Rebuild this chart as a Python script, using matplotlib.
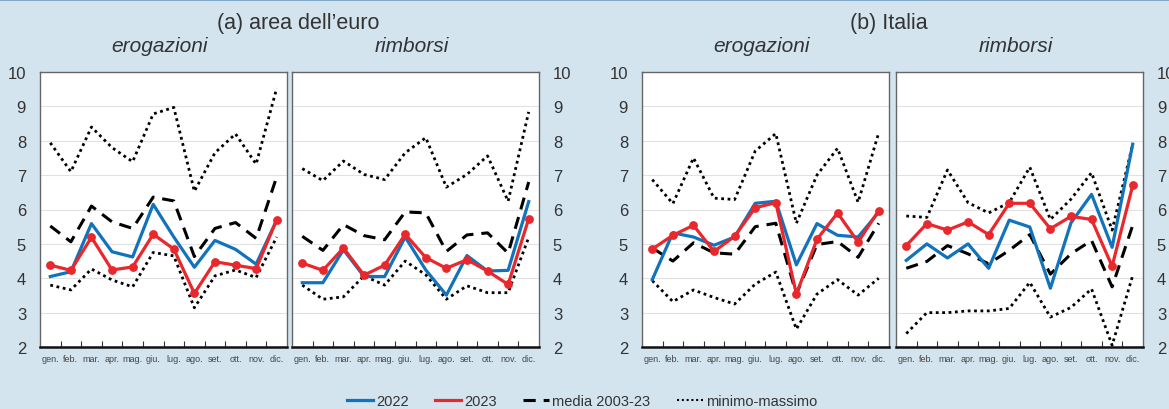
import matplotlib
matplotlib.use("Agg")
import matplotlib.pyplot as plt
from matplotlib.lines import Line2D

plt.rcParams["font.family"] = ["Liberation Sans", "DejaVu Sans"]

months = ["gen.", "feb.", "mar.", "apr.", "mag.", "giu.", "lug.", "ago.", "set.", "ott.", "nov.", "dic."]

# (a) area dell'euro - erogazioni
ea_erog_2022 = [4.05, 4.19, 5.59, 4.77, 4.62, 6.15, 5.2, 4.32, 5.1, 4.84, 4.41, 5.69]
ea_erog_2023 = [4.38, 4.23, 5.19, 4.24, 4.33, 5.28, 4.85, 3.56, 4.48, 4.38, 4.28, 5.7]
ea_erog_media = [5.52, 5.06, 6.1, 5.64, 5.45, 6.36, 6.25, 4.63, 5.45, 5.62, 5.16, 6.95]
ea_erog_max = [7.94, 7.1, 8.4, 7.8, 7.39, 8.78, 8.97, 6.53, 7.65, 8.2, 7.32, 9.53]
ea_erog_min = [3.8, 3.66, 4.27, 3.95, 3.75, 4.75, 4.65, 3.14, 4.07, 4.24, 4.02, 5.2]

# (a) area dell'euro - rimborsi
ea_rimb_2022 = [3.87, 3.87, 4.83, 4.05, 4.05, 5.2, 4.24, 3.51, 4.66, 4.21, 4.23, 6.23]
ea_rimb_2023 = [4.44, 4.23, 4.88, 4.09, 4.38, 5.28, 4.6, 4.29, 4.54, 4.21, 3.82, 5.73]
ea_rimb_media = [5.22, 4.81, 5.56, 5.24, 5.12, 5.93, 5.9, 4.78, 5.26, 5.32, 4.73, 6.8]
ea_rimb_max = [7.19, 6.84, 7.41, 7.02, 6.87, 7.65, 8.09, 6.65, 7.02, 7.56, 6.24, 8.84]
ea_rimb_min = [3.8, 3.39, 3.46, 4.07, 3.8, 4.5, 4.1, 3.39, 3.78, 3.58, 3.58, 5.19]

# (b) Italia - erogazioni
it_erog_2022 = [3.96, 5.32, 5.2, 4.96, 5.2, 6.18, 6.24, 4.39, 5.59, 5.25, 5.2, 5.92]
it_erog_2023 = [4.85, 5.25, 5.54, 4.78, 5.22, 6.05, 6.2, 3.54, 5.13, 5.9, 5.05, 5.97]
it_erog_media = [4.88, 4.5, 5.03, 4.74, 4.7, 5.5, 5.6, 3.54, 4.98, 5.07, 4.61, 5.6]
it_erog_max = [6.87, 6.17, 7.5, 6.33, 6.29, 7.7, 8.21, 5.6, 7.0, 7.78, 6.21, 8.23]
it_erog_min = [3.93, 3.32, 3.66, 3.44, 3.25, 3.83, 4.18, 2.52, 3.54, 3.96, 3.51, 4.0]

# (b) Italia - rimborsi
it_rimb_2022 = [4.52, 5.0, 4.59, 5.0, 4.29, 5.69, 5.49, 3.71, 5.61, 6.44, 4.9, 7.9]
it_rimb_2023 = [4.95, 5.59, 5.4, 5.64, 5.27, 6.18, 6.18, 5.44, 5.8, 5.71, 4.35, 6.7]
it_rimb_media = [4.29, 4.49, 4.95, 4.71, 4.42, 4.81, 5.27, 4.12, 4.71, 5.1, 3.75, 5.54]
it_rimb_max = [5.81, 5.77, 7.15, 6.2, 5.9, 6.2, 7.23, 5.71, 6.3, 7.07, 5.4, 7.9]
it_rimb_min = [2.39, 3.0, 3.0, 3.05, 3.05, 3.12, 3.88, 2.87, 3.15, 3.69, 2.05, 4.08]

panels = [
    ("erogazioni", "left", ea_erog_2022, ea_erog_2023, ea_erog_media, ea_erog_max, ea_erog_min, 40),
    ("rimborsi", "right", ea_rimb_2022, ea_rimb_2023, ea_rimb_media, ea_rimb_max, ea_rimb_min, 292),
    ("erogazioni", "left", it_erog_2022, it_erog_2023, it_erog_media, it_erog_max, it_erog_min, 642),
    ("rimborsi", "right", it_rimb_2022, it_rimb_2023, it_rimb_media, it_rimb_max, it_rimb_min, 896),
]

BG = "#d3e4ef"
BLUE = "#1173bb"
RED = "#e8282c"
W, H = 1169, 410
fig = plt.figure(figsize=(W / 100, H / 100), dpi=100, facecolor=BG)
fig.add_artist(Line2D([0, 1], [1 - 1 / H, 1 - 1 / H], color="#7fa9c6", lw=1.5))

x = list(range(12))
for title, side, s22, s23, med, mx, mn, left in panels:
    ax = fig.add_axes([left / W, (H - 348) / H, 247 / W, 275 / H])
    ax.set_facecolor("white")
    ax.plot(x, mx, color="black", lw=2.0, dashes=(1, 1.3))
    ax.plot(x, mn, color="black", lw=2.0, dashes=(1, 1.3))
    ax.plot(x, med, color="black", lw=2.2, dashes=(4, 2.6))
    ax.plot(x, s22, color=BLUE, lw=2.3)
    ax.plot(x, s23, color=RED, lw=2.3, marker="o", ms=5.3)
    ax.set_xlim(-0.5, 11.5)
    ax.set_ylim(2, 10)
    ax.set_yticks(range(2, 11))
    ax.grid(axis="y", color="#e2e2e2", lw=0.8)
    ax.set_axisbelow(True)
    ax.set_xticks([i + 0.5 for i in range(11)])
    ax.set_xticklabels([])
    ax.set_xticks(x, minor=True)
    ax.set_xticklabels(months, minor=True, fontsize=6.5, color="#444444")
    ax.tick_params(axis="x", which="major", direction="in", length=4, color="#333333")
    ax.tick_params(axis="x", which="minor", length=0, pad=5)
    ax.tick_params(axis="y", length=0, labelsize=12, colors="#333333", pad=10)
    if side == "right":
        ax.yaxis.tick_right()
    for sp in ("top", "left", "right"):
        ax.spines[sp].set_color("#666666")
        ax.spines[sp].set_linewidth(1.0)
    ax.spines["bottom"].set_color("#111111")
    ax.spines["bottom"].set_linewidth(1.8)
    fig.text((left + 120) / W, 1 - 46 / H, title, ha="center", va="center",
             fontsize=15, style="italic", color="#333333")

fig.text(298 / W, 1 - 23 / H, "(a) area dell\u2019euro", ha="center", va="center", fontsize=15.5, color="#333333")
fig.text(889 / W, 1 - 23 / H, "(b) Italia", ha="center", va="center", fontsize=15.5, color="#333333")

handles = [
    Line2D([], [], color=BLUE, lw=2.3),
    Line2D([], [], color=RED, lw=2.3),
    Line2D([], [], color="black", lw=2.2, dashes=(4, 2.6)),
    Line2D([], [], color="black", lw=1.5, dashes=(1, 1.3)),
]
fig.legend(handles, ["2022", "2023", "media 2003-23", "minimo-massimo"], loc="center",
           bbox_to_anchor=(582 / W, 1 - 402 / H), ncol=4, frameon=False, fontsize=10.5,
           handlelength=1.8, handletextpad=0.2, columnspacing=1.8, labelcolor="#333333",
           borderpad=0)

fig.savefig("out.png", dpi=100, facecolor=BG)
